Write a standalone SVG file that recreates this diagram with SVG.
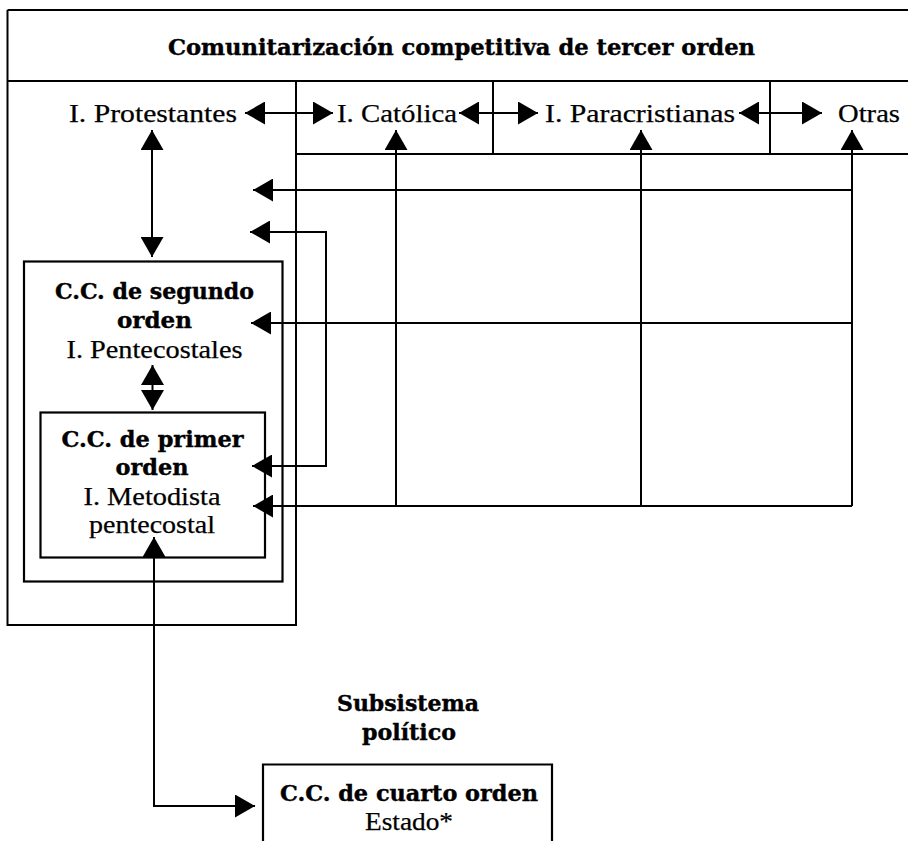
<svg xmlns="http://www.w3.org/2000/svg" width="908" height="841" viewBox="0 0 908 841">
<style>
.ln{fill:none;stroke:#000;stroke-width:2}
.bx{fill:none;stroke:#000;stroke-width:2.2}
.ar{fill:none;stroke:#000;stroke-width:2;marker-end:url(#ah)}
.ar2{fill:none;stroke:#000;stroke-width:2;marker-start:url(#ah);marker-end:url(#ah)}
.b{font-family:"DejaVu Serif",serif;font-weight:bold;font-size:22px;fill:#000;stroke:#000;stroke-width:0.4;text-anchor:middle}
.r{font-family:"Liberation Serif",serif;font-size:26px;fill:#000;stroke:#000;stroke-width:0.25;text-anchor:middle}
</style>
<defs>
<marker id="ah" markerUnits="userSpaceOnUse" markerWidth="20" markerHeight="23" refX="20" refY="11.5" orient="auto-start-reverse" viewBox="0 0 20 23">
<path d="M0,0 L20,11.5 L0,23 z" fill="#000"/>
</marker>
</defs>
<rect width="908" height="841" fill="#fff"/>

<g id="frame">
<path class="ln" d="M7.5,10 H908 M7.5,10 V625 H296 V81 M7.5,81 H908 M296,154 H908 M493,81 V154 M770,81 V154"/>
</g>

<g id="header">
<text class="b" x="461.5" y="55" font-size="25" textLength="587" lengthAdjust="spacingAndGlyphs">Comunitarización competitiva de tercer orden</text>
</g>

<g id="protestantes">
<text class="r" x="153" y="122" textLength="168" lengthAdjust="spacingAndGlyphs">I. Protestantes</text>
</g>
<g id="catolica">
<text class="r" x="397" y="122" textLength="120" lengthAdjust="spacingAndGlyphs">I. Católica</text>
</g>
<g id="paracristianas">
<text class="r" x="640" y="122" textLength="190" lengthAdjust="spacingAndGlyphs">I. Paracristianas</text>
</g>
<g id="otras">
<text class="r" x="869" y="122" textLength="62" lengthAdjust="spacingAndGlyphs">Otras</text>
</g>

<g id="segundo">
<rect class="bx" x="24" y="261.5" width="258.5" height="320"/>
<text class="b" x="154.5" y="298.5" textLength="199" lengthAdjust="spacingAndGlyphs">C.C. de segundo</text>
<text class="b" x="154.5" y="328" textLength="75" lengthAdjust="spacingAndGlyphs">orden</text>
<text class="r" x="154.5" y="358" textLength="176" lengthAdjust="spacingAndGlyphs">I. Pentecostales</text>
</g>

<g id="primer">
<rect class="bx" x="40.5" y="412.5" width="224.5" height="145"/>
<text class="b" x="152.5" y="446.5" textLength="182" lengthAdjust="spacingAndGlyphs">C.C. de primer</text>
<text class="b" x="152" y="475" textLength="73" lengthAdjust="spacingAndGlyphs">orden</text>
<text class="r" x="152" y="505" textLength="137" lengthAdjust="spacingAndGlyphs">I. Metodista</text>
<text class="r" x="152" y="533" textLength="126" lengthAdjust="spacingAndGlyphs">pentecostal</text>
</g>

<g id="subsistema">
<text class="b" x="408" y="711" textLength="142" lengthAdjust="spacingAndGlyphs">Subsistema</text>
<text class="b" x="409" y="740" textLength="94" lengthAdjust="spacingAndGlyphs">político</text>
</g>

<g id="cuarto">
<path class="bx" d="M263,842 V764.5 H552 V842"/>
<text class="b" x="409" y="801" font-size="22.5" textLength="258" lengthAdjust="spacingAndGlyphs">C.C. de cuarto orden</text>
<text class="r" x="409" y="830" textLength="88" lengthAdjust="spacingAndGlyphs">Estado*</text>
</g>

<g id="connectors">
<line class="ar2" x1="245" y1="113" x2="333" y2="113"/>
<line class="ar2" x1="459" y1="113" x2="538" y2="113"/>
<line class="ar2" x1="739" y1="113" x2="822" y2="113"/>
<line class="ar2" x1="152" y1="130" x2="152" y2="257"/>
<line class="ar" x1="396" y1="506" x2="396" y2="130"/>
<line class="ar" x1="641" y1="506" x2="641" y2="130"/>
<line class="ar" x1="852" y1="506" x2="852" y2="130"/>
<line class="ar" x1="852" y1="190" x2="253" y2="190"/>
<line class="ar" x1="852" y1="323" x2="251" y2="323"/>
<line class="ar" x1="852" y1="506" x2="253" y2="506"/>
<polyline class="ar2" points="250,232 326,232 326,466 252,466"/>
<line class="ar2" x1="152.5" y1="365" x2="152.5" y2="410"/>
<polyline class="ar2" points="154,537 154,806 255,806"/>
</g>
</svg>
